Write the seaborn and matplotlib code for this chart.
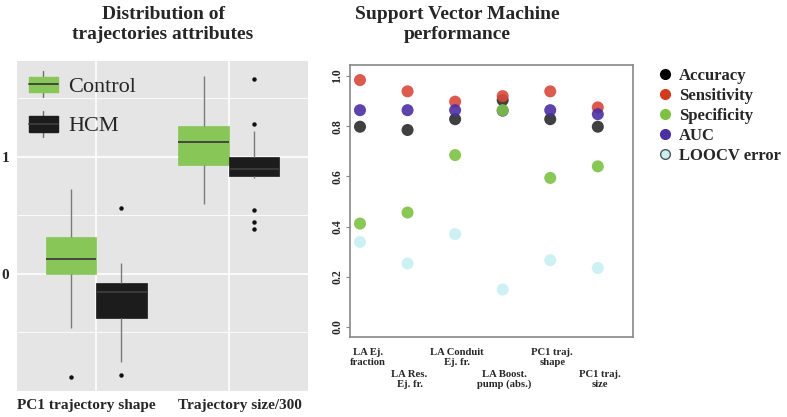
import numpy as np
import pandas as pd
import matplotlib
matplotlib.use("Agg")
import matplotlib.pyplot as plt
import matplotlib.transforms as mtransforms
import seaborn as sns
from matplotlib.patches import Patch, Rectangle
from matplotlib.lines import Line2D
from matplotlib.legend_handler import HandlerBase

# ---- left panel: box summaries ----
# five numbers: whisker low, q1, median, q3, whisker high
control_pc1 = [-0.46, 0.0, 0.13, 0.316, 0.73]
control_pc1_out = [-0.88]
hcm_pc1 = [-0.75, -0.38, -0.15, -0.08, 0.09]
hcm_pc1_out = [-0.86, 0.56]
control_size = [0.60, 0.93, 1.13, 1.265, 1.69]
control_size_out = []
hcm_size = [0.82, 0.84, 0.90, 1.0, 1.22]
hcm_size_out = [0.385, 0.445, 0.547, 1.28, 1.667]

attributes = ["PC1 trajectory shape", "Trajectory size/300"]
groups = ["Control", "HCM"]
group_colors = ["#88C657", "#1C1C1C"]

# ---- right panel: SVM performance ----
features = ["LA Ej.\nfraction", "LA Res.\nEj. fr.", "LA Conduit\nEj. fr.",
            "LA Boost.\npump (abs.)", "PC1 traj.\nshape", "PC1 traj.\nsize"]
accuracy = [0.798, 0.785, 0.828, 0.904, 0.828, 0.798]
sensitivity = [0.984, 0.939, 0.898, 0.920, 0.939, 0.875]
specificity = [0.412, 0.456, 0.685, 0.864, 0.594, 0.640]
auc = [0.864, 0.864, 0.864, 0.862, 0.864, 0.848]
loocv_error = [0.339, 0.253, 0.370, 0.149, 0.266, 0.235]

metrics = ["Accuracy", "Sensitivity", "Specificity", "AUC", "LOOCV error"]
metric_colors = ["#2B2B2B", "#D9483B", "#7CC143", "#4B2FA3", "#C8F0F2"]
legend_colors = ["#000000", "#D23C1E", "#7DC242", "#4B2FA0", "#C8F0F2"]
draw_order = ["Accuracy", "Sensitivity", "AUC", "Specificity", "LOOCV error"]


def box_sample(five, outliers):
    # build a sample whose quartiles / whiskers equal the five numbers
    wlo, q1, med, q3, whi = five
    below = sorted([o for o in outliers if o < q1]) + [wlo]
    above = [whi] + sorted([o for o in outliers if o > q3])
    k = max(len(below), len(above), 2)
    below = below + [q1] * (k - len(below))
    above = [q3] * (k - len(above)) + above
    return sorted(below + [q1] + [med] * (k - 1) + [med] + [med] * (k - 1) + [q3] + above)


rows = []
for attr, grp, five, out in [
    (attributes[0], groups[0], control_pc1, control_pc1_out),
    (attributes[0], groups[1], hcm_pc1, hcm_pc1_out),
    (attributes[1], groups[0], control_size, control_size_out),
    (attributes[1], groups[1], hcm_size, hcm_size_out),
]:
    for v in box_sample(five, out):
        rows.append({"attribute": attr, "group": grp, "value": v})
box_df = pd.DataFrame(rows)

perf = {"Accuracy": accuracy, "Sensitivity": sensitivity, "Specificity": specificity,
        "AUC": auc, "LOOCV error": loocv_error}
perf_df = pd.DataFrame([
    {"feature": f, "metric": m, "value": perf[m][i]}
    for m in draw_order for i, f in enumerate(features)
])


class BoxKeyHandler(HandlerBase):
    def create_artists(self, legend, orig_handle, xdescent, ydescent,
                       width, height, fontsize, trans):
        x0, y0 = -xdescent, -ydescent
        fc = orig_handle.get_facecolor()
        whisk = Line2D([x0 + width / 2] * 2, [y0, y0 + height], color="#6E6E6E",
                       lw=1.0, transform=trans)
        rect = Rectangle((x0, y0 + height * 0.21), width, height * 0.58,
                         facecolor=fc, edgecolor=fc, transform=trans)
        med = Line2D([x0, x0 + width], [y0 + height / 2] * 2, color="#3D3D3D",
                     lw=1.3, transform=trans)
        return [whisk, rect, med]


def shifted(ax, dx_px, dy_px):
    # x in data units, y in axes units, nudged by a few pixels
    base = mtransforms.blended_transform_factory(ax.transData, ax.transAxes)
    return base + mtransforms.ScaledTranslation(dx_px / 100, dy_px / 100,
                                                fig.dpi_scale_trans)


sns.set_theme(style="white")
plt.rcParams["font.family"] = ["Liberation Serif", "DejaVu Sans"]

fig = plt.figure(figsize=(7.87, 4.17), dpi=100)
ax1 = fig.add_axes([17 / 787, 1 - 391 / 417, 291 / 787, 330 / 417])
ax2 = fig.add_axes([350 / 787, 1 - 337 / 417, 283 / 787, 272 / 417])

# ---- left: boxplot ----
ax1.set_facecolor("#E5E5E5")
sns.boxplot(data=box_df, x="attribute", y="value", hue="group",
            order=attributes, hue_order=groups, palette=group_colors, saturation=1,
            width=0.76, gap=0, showcaps=False, fliersize=2.2, legend=False,
            whiskerprops=dict(color="#7A7A7A", linewidth=1.0),
            medianprops=dict(color="#3D3D3D", linewidth=1.3),
            flierprops=dict(marker="o", markerfacecolor="#111111",
                            markeredgecolor="#111111"),
            ax=ax1, zorder=3)
for p in ax1.patches:
    p.set_edgecolor(p.get_facecolor())
    p.set_linewidth(0.5)

ax1.set_xlim(-0.6, 1.6)
ax1.set_ylim(-1.0, 1.82)
ax1.set_yticks([0, 1])
ax1.set_yticklabels(["0", "1"], fontsize=11, fontweight="bold")
ax1.set_yticks([-0.5, 0.5, 1.5], minor=True)
ax1.grid(True, which="major", color="white", linewidth=1.2, zorder=0)
ax1.grid(True, which="minor", axis="y", color="white", linewidth=0.6, zorder=0)
ax1.set_axisbelow(True)
ax1.set_xticklabels([])
# the two category labels sit slightly off their ticks in the original
for i, (name, dx) in enumerate(zip(attributes, [-10, 11])):
    ax1.text(i, 0, name, transform=shifted(ax1, dx, -15), ha="center", va="center",
             fontsize=11, fontweight="bold")
ax1.tick_params(axis="both", which="major", length=2.5, color="#B0B0B0", pad=3)
ax1.tick_params(axis="y", which="minor", length=0)
ax1.set_xlabel("")
ax1.set_ylabel("")
for s in ax1.spines.values():
    s.set_visible(False)

box_handles = [Patch(facecolor=c, label=g) for g, c in zip(groups, group_colors)]
fig.legend(handles=box_handles, labels=groups, handler_map={Patch: BoxKeyHandler()},
           loc="upper left", bbox_to_anchor=(29 / 787, 1 - 71 / 417),
           bbox_transform=fig.transFigure, frameon=False, borderpad=0,
           borderaxespad=0, fontsize=16, handlelength=1.3, handleheight=1.45,
           handletextpad=0.45, labelspacing=0.6)

# ---- right: SVM scatter ----
sns.scatterplot(data=perf_df, x="feature", y="value", hue="metric",
                hue_order=metrics, palette=metric_colors, s=75, alpha=0.9,
                edgecolor="none", legend=False, ax=ax2, zorder=3)
ax2.set_xlim(-0.21, 5.74)
ax2.set_ylim(-0.04, 1.044)
ax2.set_yticks(np.arange(0, 1.01, 0.2))
ax2.set_yticklabels([f"{v:.1f}" for v in np.arange(0, 1.01, 0.2)],
                    fontsize=8.5, fontweight="bold", rotation=90, va="center")
ax2.set_xticks(range(len(features)))
ax2.set_xticklabels([])
# staggered labels: every second one sits two lines lower
for i, name in enumerate(features):
    ax2.text(i, 0, name, transform=shifted(ax2, 2 if i else 8, -11 - (22 if i % 2 else 0)),
             ha="center", va="top", fontsize=7.7, fontweight="bold",
             linespacing=1.08)
ax2.tick_params(axis="x", length=0)
ax2.tick_params(axis="y", length=3, color="#888888", width=0.8, pad=2, left=True)
ax2.set_xlabel("")
ax2.set_ylabel("")
ax2.grid(False)
for s in ax2.spines.values():
    s.set_color("#888888")
    s.set_linewidth(1.2)

perf_handles = [
    Line2D([], [], marker="o", linestyle="none", markersize=7, markerfacecolor=c,
           markeredgecolor="#555555" if m == "LOOCV error" else c, label=m)
    for m, c in zip(metrics, legend_colors)
]
fig.legend(handles=perf_handles, loc="upper left",
           bbox_to_anchor=(657 / 787, 1 - 68 / 417), bbox_transform=fig.transFigure,
           frameon=False, borderpad=0, borderaxespad=0,
           prop={"weight": "bold", "size": 12}, handlelength=0.9,
           handletextpad=0.4, labelspacing=0.24)

# titles
fig.text(163 / 787, 1 - 24.5 / 417, "Distribution of\ntrajectories attributes",
         ha="center", va="center", fontsize=14, fontweight="bold", linespacing=1.2)
fig.text(457 / 787, 1 - 24.5 / 417, "Support Vector Machine\nperformance",
         ha="center", va="center", fontsize=14, fontweight="bold", linespacing=1.2)

fig.savefig("out.png", dpi=100)
